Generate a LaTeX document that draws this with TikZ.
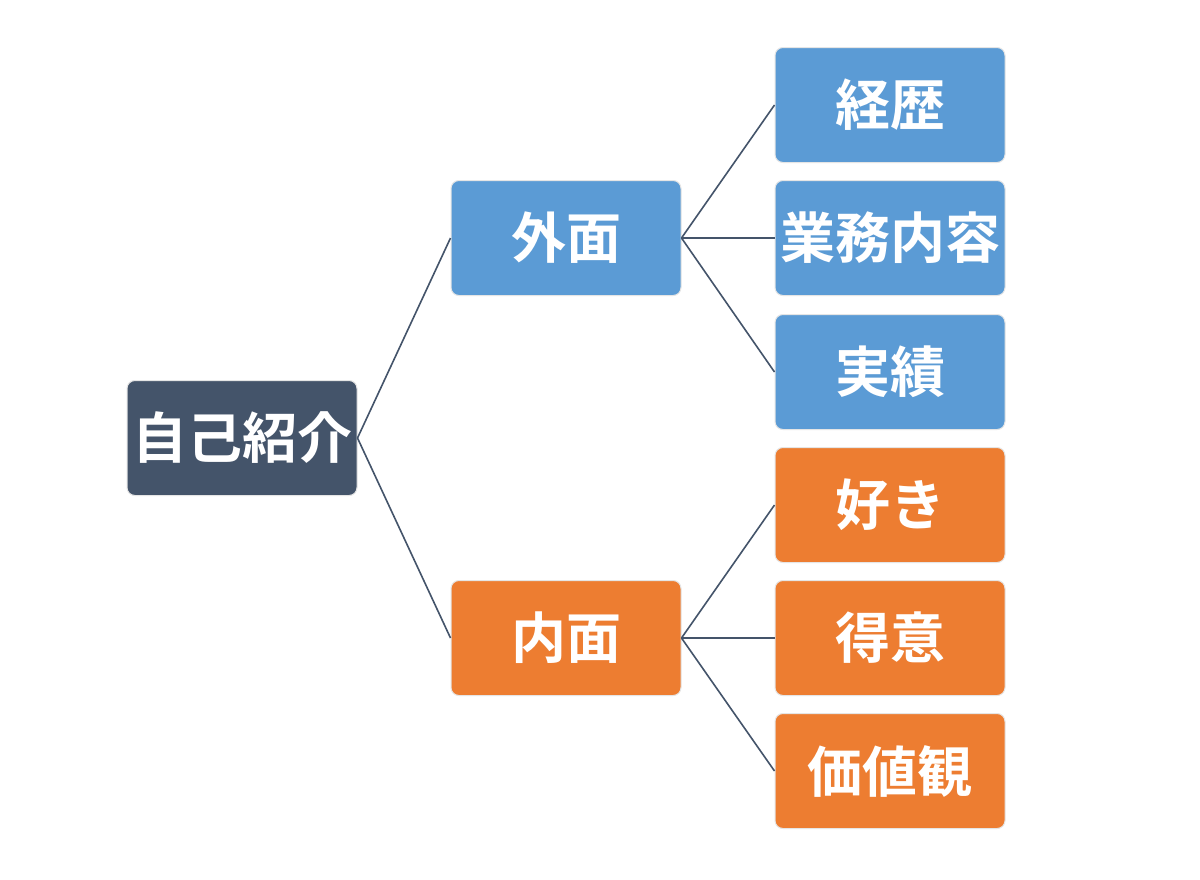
\documentclass[tikz,border=0pt]{standalone}
\usepackage{fontspec}
\newfontfamily\cjk{Noto Sans CJK JP}[BoldFont={* Bold}]
\definecolor{navy}{HTML}{44546A}
\definecolor{sky}{HTML}{5B9BD5}
\definecolor{tang}{HTML}{ED7D31}
\begin{document}
\begin{tikzpicture}[x=1pt,y=-1pt,
  box/.style={rectangle, rounded corners=8pt, minimum width=230pt, minimum height=115pt,
    draw=gray!20, line width=1pt, text=white, font=\cjk\bfseries\fontsize{55}{60}\selectfont, inner sep=0pt},
  rootbox/.style={box, fill=navy},
  bluebox/.style={box, fill=sky},
  orangebox/.style={box, fill=tang},
  link/.style={draw=navy, line width=1.6pt}]
\useasboundingbox (0,0) rectangle (1200,879);
\fill[white] (0,0) rectangle (1200,879);
\node[rootbox] (root) at (242,438) {自己紹介};
\node[bluebox] (out) at (566,238) {外面};
\node[orangebox] (in) at (566,638) {内面};
\node[bluebox] (a1) at (890,105) {経歴};
\node[bluebox] (a2) at (890,238) {業務内容};
\node[bluebox] (a3) at (890,372) {実績};
\node[orangebox] (b1) at (890,505) {好き};
\node[orangebox] (b2) at (890,638) {得意};
\node[orangebox] (b3) at (890,771) {価値観};
\draw[link] (root.east) -- (out.west);
\draw[link] (root.east) -- (in.west);
\foreach \n in {a1,a2,a3} \draw[link] (out.east) -- (\n.west);
\foreach \n in {b1,b2,b3} \draw[link] (in.east) -- (\n.west);
\end{tikzpicture}
\end{document}
